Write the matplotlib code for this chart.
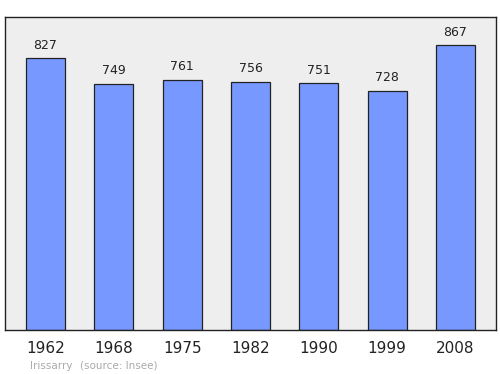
import matplotlib
matplotlib.use("Agg")
import matplotlib.pyplot as plt

years = ["1962", "1968", "1975", "1982", "1990", "1999", "2008"]
population = [827, 749, 761, 756, 751, 728, 867]

fig = plt.figure(figsize=(5.0, 3.74), dpi=100)
ax = fig.add_axes([0.010, 0.118, 0.982, 0.837])
ax.set_facecolor("#eeeeee")

pos = list(range(len(years)))
ax.bar(pos, population, width=0.57, color="#7799ff", edgecolor="#222222", linewidth=0.9)
for x, v in zip(pos, population):
    ax.text(x, v + 20, str(v), ha="center", va="bottom", fontsize=9, color="#222222")

ax.set_xlim(-0.593, 6.593)
ax.set_ylim(0, 953)
ax.set_yticks([])
ax.set_xticks(pos)
ax.set_xticklabels(years, fontsize=11, color="#222222")
ax.tick_params(axis="x", length=0, pad=8)
for s in ax.spines.values():
    s.set_color("#222222")
    s.set_linewidth(1.0)

fig.text(0.06, 0.014, "Irissarry", fontsize=7.5, color="#aaaaaa")
fig.text(0.16, 0.014, "(source: Insee)", fontsize=7.5, color="#aaaaaa")

fig.savefig("out.png", dpi=100)
